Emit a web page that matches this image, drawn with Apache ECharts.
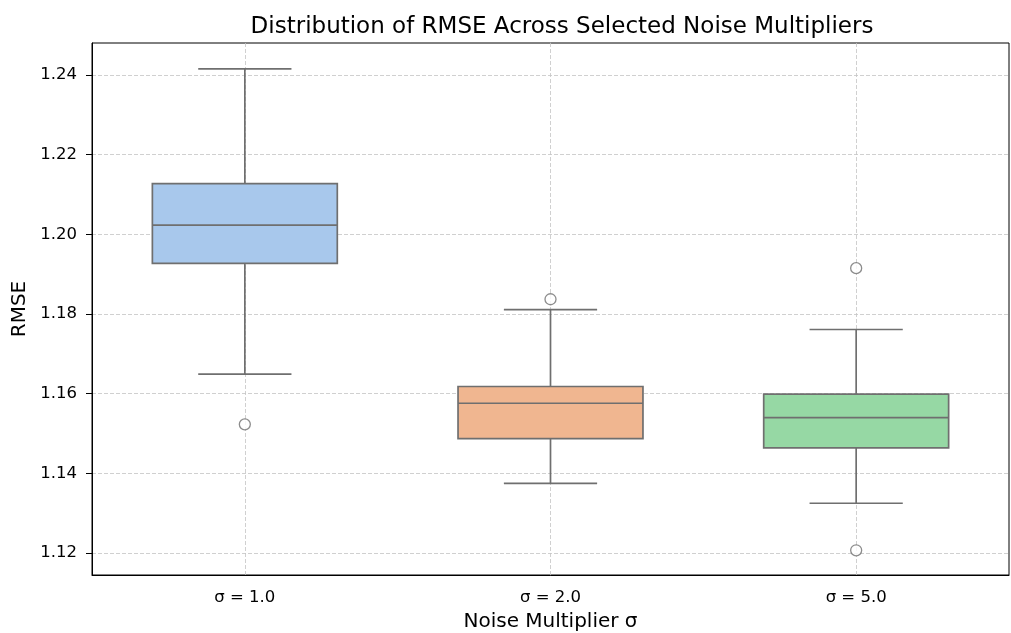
<!DOCTYPE html>
<html>
<head>
<meta charset="utf-8">
<script src="https://cdn.jsdelivr.net/npm/echarts@6/dist/echarts.min.js"></script>
<style>
  html, body { margin: 0; padding: 0; background: #fff; }
  #chartsDOM { width: 1011px; height: 633px; }
</style>
</head>
<body>
<div id="chartsDOM"></div>
<script>
// 类别与箱线图数据
var categories = ['σ = 1.0', 'σ = 2.0', 'σ = 5.0'];
var whiskerLow = [1.1649, 1.1375, 1.1325];
var q1 = [1.1927, 1.1487, 1.1464];
var median = [1.2023, 1.1576, 1.1540];
var q3 = [1.2127, 1.1618, 1.1599];
var whiskerHigh = [1.2415, 1.1811, 1.1761];
// 离群点: [类别序号, 值]
var outliers = [[0, 1.1523], [1, 1.1837], [2, 1.1915], [2, 1.1207]];
var boxColors = ['#a8c8ec', '#f0b690', '#96d8a4'];

var boxData = categories.map(function (c, i) {
    return [i, whiskerLow[i], q1[i], median[i], q3[i], whiskerHigh[i]];
});

var edge = '#6f6f6f';
var font = 'DejaVu Sans';

function renderBox(params, api) {
    var x = api.value(0);
    var lo = api.coord([x, api.value(1)]);
    var b1 = api.coord([x, api.value(2)]);
    var md = api.coord([x, api.value(3)]);
    var b3 = api.coord([x, api.value(4)]);
    var hi = api.coord([x, api.value(5)]);
    var band = api.size([1, 0])[0];
    var bw = band * 0.605;
    var cw = band * 0.305;
    var cx = lo[0];
    var style = { stroke: edge, lineWidth: 1.7 };
    return {
        type: 'group',
        children: [
            { type: 'line', shape: { x1: cx, y1: hi[1], x2: cx, y2: b3[1] }, style: style },
            { type: 'line', shape: { x1: cx, y1: b1[1], x2: cx, y2: lo[1] }, style: style },
            { type: 'line', shape: { x1: cx - cw / 2, y1: hi[1], x2: cx + cw / 2, y2: hi[1] }, style: style },
            { type: 'line', shape: { x1: cx - cw / 2, y1: lo[1], x2: cx + cw / 2, y2: lo[1] }, style: style },
            {
                type: 'rect',
                shape: { x: cx - bw / 2, y: b3[1], width: bw, height: b1[1] - b3[1] },
                style: { fill: boxColors[params.dataIndex], stroke: edge, lineWidth: 1.7 }
            },
            { type: 'line', shape: { x1: cx - bw / 2, y1: md[1], x2: cx + bw / 2, y2: md[1] }, style: style }
        ]
    };
}

var myChart = echarts.init(document.getElementById('chartsDOM'));
var option = {
    backgroundColor: '#fff',
    animation: false,
    title: {
        text: 'Distribution of RMSE Across Selected Noise Multipliers',
        left: 557,
        textAlign: 'center',
        top: 11,
        textStyle: { fontFamily: font, fontSize: 23, fontWeight: 'normal', color: '#000' }
    },
    grid: {
        left: 92, right: 2, top: 43, bottom: 58,
        outerBoundsMode: 'none',
        show: true, borderColor: '#000', borderWidth: 1, backgroundColor: 'transparent'
    },
    xAxis: {
        type: 'category',
        data: categories,
        name: 'Noise Multiplier σ',
        nameLocation: 'middle',
        nameGap: 37,
        nameTextStyle: { fontFamily: font, fontSize: 20, color: '#000' },
        axisLine: { lineStyle: { color: '#000', width: 1 } },
        axisTick: { alignWithLabel: true, length: 6, lineStyle: { color: '#000' } },
        axisLabel: { fontFamily: font, fontSize: 16.5, color: '#000', margin: 14 },
        splitLine: { show: true, alignWithLabel: true, lineStyle: { color: '#c4c4c4', type: [4, 2], width: 0.8 } }
    },
    yAxis: {
        type: 'value',
        min: 1.1145,
        max: 1.248,
        splitNumber: 6,
        name: 'RMSE',
        nameLocation: 'middle',
        nameGap: 62,
        nameTextStyle: { fontFamily: font, fontSize: 20, color: '#000' },
        axisLine: { show: true, lineStyle: { color: '#000', width: 1 } },
        axisTick: { show: true, length: 6, lineStyle: { color: '#000' } },
        axisLabel: {
            fontFamily: font, fontSize: 16.5, color: '#000', margin: 15,
            showMinLabel: false, showMaxLabel: false,
            formatter: function (v) { return v.toFixed(2); }
        },
        splitLine: {
            show: true, showMinLine: false, showMaxLine: false,
            lineStyle: { color: '#c4c4c4', type: [4, 2], width: 0.8 }
        }
    },
    series: [
        {
            type: 'custom',
            renderItem: renderBox,
            data: boxData,
            encode: { x: 0, y: [1, 2, 3, 4, 5] },
            z: 3
        },
        {
            type: 'scatter',
            data: outliers,
            symbol: 'circle',
            symbolSize: 11,
            itemStyle: { color: '#fff', borderColor: edge, borderWidth: 1.3 },
            z: 4
        }
    ]
};
myChart.setOption(option);
</script>
</body>
</html>
